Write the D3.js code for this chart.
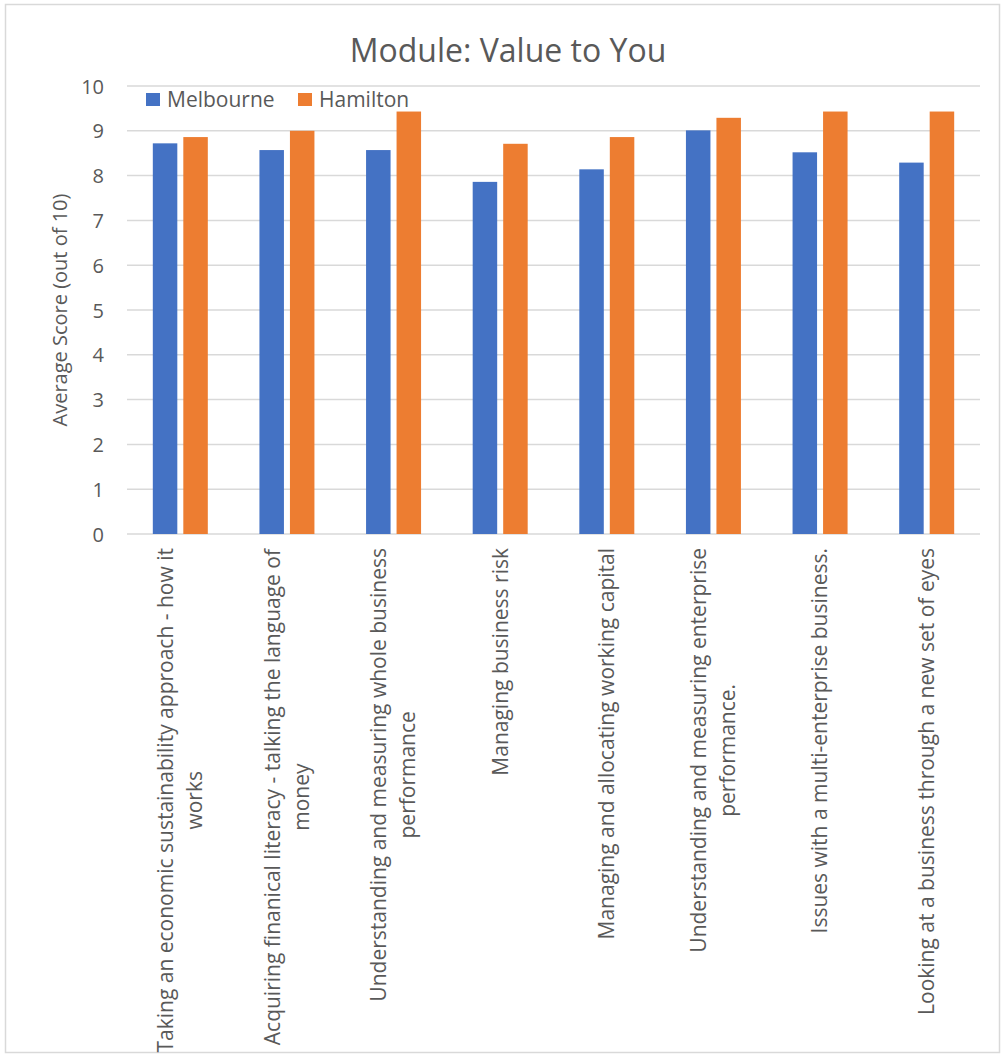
<!DOCTYPE html>
<html><head><meta charset="utf-8">
<script src="https://cdn.jsdelivr.net/npm/d3@7"></script>
<style>body{margin:0;background:#fff}text{font-family:"Open Sans",sans-serif;fill:#595959}</style>
</head><body>
<svg id="c" width="1004" height="1059"></svg>
<script>
const categories = [
  ["Taking an economic sustainability approach - how it", "works"],
  ["Acquiring finanical literacy - talking the language of", "money"],
  ["Understanding and measuring whole business", "performance"],
  ["Managing business risk"],
  ["Managing and allocating working capital"],
  ["Understanding and measuring enterprise", "performance."],
  ["Issues with a multi-enterprise business."],
  ["Looking at a business through a new set of eyes"]
];
const seriesNames = ["Melbourne", "Hamilton"];
const melbourne = [8.72, 8.57, 8.57, 7.86, 8.14, 9.01, 8.52, 8.29];
const hamilton = [8.86, 9.0, 9.43, 8.71, 8.86, 9.29, 9.43, 9.43];
const yTicks = [0,1,2,3,4,5,6,7,8,9,10];
const colors = ["#4472C4", "#ED7D31"];

(function(){
const svg = d3.select("#c");
svg.append("rect").attr("x",5.5).attr("y",4.5).attr("width",994).attr("height",1048)
  .attr("fill","#fff").attr("stroke","#d9d9d9").attr("stroke-width",1.5);

const pL = 127, pR = 980, pT = 86, pB = 534;
const x = d3.scaleBand().domain(d3.range(categories.length)).range([pL, pR]).paddingInner(0).paddingOuter(0);
const y = d3.scaleLinear().domain([0, 10]).range([pB, pT]);
const barW = 24.5, gap = 6;
const x1 = d3.scaleOrdinal().domain([0,1]).range([-(barW + gap/2), gap/2]);

svg.append("g").selectAll("line").data(yTicks).join("line")
  .attr("x1", pL).attr("x2", pR)
  .attr("y1", d => y(d)).attr("y2", d => y(d))
  .attr("stroke", "#d9d9d9").attr("stroke-width", 1.5);

const yAxis = d3.axisLeft(y).tickValues(yTicks).tickSize(0).tickPadding(0);
const yg = svg.append("g").attr("transform", `translate(104,0)`).call(yAxis);
yg.select(".domain").remove();
yg.selectAll("text").style("font-size","20px").attr("fill","#595959").attr("dy","0.35em");

const data = [melbourne, hamilton];
data.forEach((vals, s) => {
  svg.append("g").selectAll("rect").data(vals).join("rect")
    .attr("x", (d,i) => x(i) + x.bandwidth()/2 + x1(s))
    .attr("width", barW)
    .attr("y", d => y(d))
    .attr("height", d => y(0) - y(d))
    .attr("fill", colors[s]);
});

const lineH = 29;
categories.forEach((lines, i) => {
  const cx = x(i) + x.bandwidth()/2;
  const n = lines.length;
  const t = svg.append("text")
    .attr("transform", `translate(${cx},548) rotate(-90)`)
    .attr("text-anchor","middle").style("font-size","21px");
  lines.forEach((ln, j) => {
    t.append("tspan").attr("x", 0).attr("y", (j - (n-1)/2) * lineH).attr("dy","0.35em").text(ln);
  });
  const w = t.node().getBBox().width;
  t.attr("transform", `translate(${cx},548) rotate(-90) translate(${-w/2},0)`);
});

svg.append("text").attr("x", 508).attr("y", 62).attr("text-anchor","middle")
  .style("font-size","32px").text("Module: Value to You");

svg.append("text").attr("transform","translate(60,310) rotate(-90)")
  .attr("text-anchor","middle").attr("dy","0.35em").style("font-size","20px")
  .text("Average Score (out of 10)");

const legX = [146, 298];
seriesNames.forEach((nm, s) => {
  svg.append("rect").attr("x", legX[s]).attr("y", 93).attr("width", 14).attr("height", 13).attr("fill", colors[s]);
  svg.append("text").attr("x", legX[s] + 21).attr("y", 99.5).attr("dy","0.35em")
    .style("font-size","21px").text(nm);
});
})();
</script>
</body></html>
